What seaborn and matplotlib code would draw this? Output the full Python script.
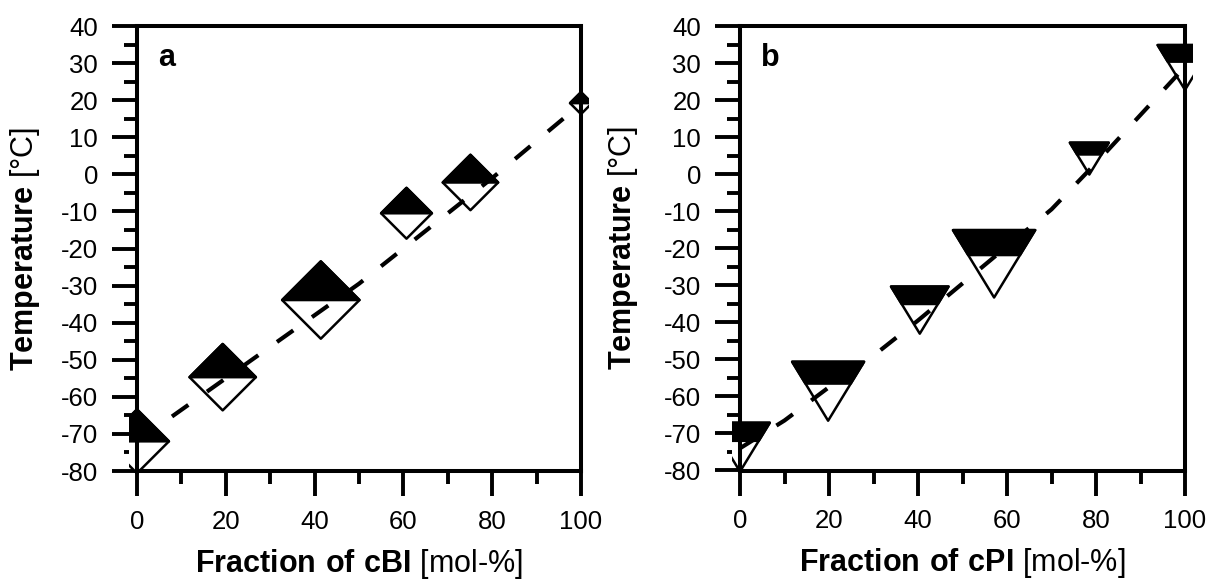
import matplotlib
matplotlib.use("Agg")
import matplotlib.pyplot as plt
import numpy as np
import pandas as pd
import seaborn as sns
from matplotlib.path import Path
from matplotlib.ticker import MultipleLocator
from matplotlib.transforms import Bbox, TransformedBbox

# ---- data -------------------------------------------------------------
# Panel a: cBI copolymers
cbi_fraction = [0, 19.3, 41.4, 60.7, 75.1, 100]
cbi_temperature = [-72.0, -54.7, -33.9, -10.5, -2.2, 19.2]
cbi_curve_fraction = [0, 10, 20, 30, 40, 50, 60, 70, 80, 90, 100]
cbi_curve_temperature = [-72, -63.5, -55, -46.5, -38, -29.5, -20, -10.5, -1, 9, 19]

# Panel b: cPI copolymers
cpi_fraction = [0, 19.8, 40.4, 57.1, 78.5, 100]
cpi_temperature = [-73.7, -58.6, -36.7, -24.2, 4.2, 28.8]
cpi_curve_fraction = [0, 10, 20, 30, 40, 50, 60, 70, 80, 90, 100]
cpi_curve_temperature = [-74, -66.5, -57.5, -49, -39.5, -29.5, -19.5, -9.5, 3, 16, 29]

# marker widths in points
cbi_marker_width = [46.0, 47.8, 55.7, 36.6, 39.9, 15.8]
cpi_marker_width = [42.9, 51.8, 41.4, 59.2, 28.0, 39.4]

# ---- style ------------------------------------------------------------
sns.set_theme(style="white")
plt.rcParams["font.family"] = ["Liberation Sans", "DejaVu Sans"]
plt.rcParams["mathtext.fontset"] = "custom"
plt.rcParams["mathtext.rm"] = "Liberation Sans"
plt.rcParams["mathtext.bf"] = "Liberation Sans:bold"
plt.rcParams["axes.unicode_minus"] = False

# half-filled marker shapes
DIAMOND = Path([(0, 1), (1, 0), (0, -1), (-1, 0), (0, 1)], closed=True)
DIAMOND_TOP = Path([(-1, 0), (0, 1), (1, 0), (-1, 0)], closed=True)
R = 1.22          # width / height of the down triangle
BAND = 0.37       # filled share of the triangle height
yb = 1 - 2 * BAND
TRI = Path([(-R, 1), (R, 1), (0, -1), (-R, 1)], closed=True)
TRI_TOP = Path([(-R, 1), (R, 1), (R * (yb + 1) / 2, yb),
                (-R * (yb + 1) / 2, yb), (-R, 1)], closed=True)

fig = plt.figure(figsize=(12.07, 5.81), dpi=100)
fig.patch.set_facecolor("white")
ax_a = fig.add_axes([137 / 1207, 1 - 471 / 581, 444 / 1207, 445 / 581])
ax_b = fig.add_axes([740 / 1207, 1 - 470.5 / 581, 445 / 1207, 444.5 / 581])


def draw_panel(ax, frac, temp, widths, cx, cy, full, top, letter, xlabel, ylab_x):
    df = pd.DataFrame({"x": frac, "y": temp, "s": np.square(widths)})
    curve = pd.DataFrame({"x": cx, "y": cy})
    clip = TransformedBbox(Bbox.from_extents(-0.019, -0.019, 1.019, 1.019), ax.transAxes)

    sns.scatterplot(data=df, x="x", y="y", s=df["s"], marker=full,
                    facecolor="white", edgecolor="black", linewidth=1.8,
                    ax=ax, zorder=1, legend=False)
    sns.scatterplot(data=df, x="x", y="y", s=df["s"], marker=top,
                    facecolor="black", edgecolor="black", linewidth=1.8,
                    ax=ax, zorder=1.1, legend=False)
    for coll in ax.collections:
        coll.set_clip_path(None)
        coll.set_clip_box(clip)

    sns.lineplot(data=curve, x="x", y="y", color="black", linewidth=3,
                 linestyle=(0, (4.8, 5.5)), ax=ax, zorder=2)

    ax.set_xlim(0, 100)
    ax.set_ylim(-80, 40)
    ax.xaxis.set_major_locator(MultipleLocator(20))
    ax.xaxis.set_minor_locator(MultipleLocator(10))
    ax.yaxis.set_major_locator(MultipleLocator(10))
    ax.yaxis.set_minor_locator(MultipleLocator(5))
    ax.tick_params(which="major", direction="out", length=18, width=2.8,
                   color="black", labelsize=18.5, labelcolor="black", pad=10)
    ax.tick_params(which="minor", direction="out", length=9.5, width=2.8,
                   color="black")
    ax.tick_params(axis="both", which="both", bottom=True, left=True,
                   top=False, right=False)
    for sp in ax.spines.values():
        sp.set_visible(True)
        sp.set_linewidth(2.9)
        sp.set_color("black")
    ax.set_facecolor("white")

    ax.set_xlabel(xlabel, fontsize=22, color="black")
    ax.set_ylabel(r"$\mathbf{Temperature}$ [°C]", fontsize=22, color="black")
    ax.xaxis.set_label_coords(0.5, -0.17)
    ax.yaxis.set_label_coords(ylab_x, 0.5)
    ax.text(0.048, 0.911, letter, transform=ax.transAxes, fontsize=22,
            fontweight="bold", ha="left", va="baseline", color="black")


draw_panel(ax_a, cbi_fraction, cbi_temperature, cbi_marker_width,
           cbi_curve_fraction, cbi_curve_temperature, DIAMOND, DIAMOND_TOP,
           "a", r"$\mathbf{Fraction\ of\ cBI}$ [mol-%]", -0.215)
draw_panel(ax_b, cpi_fraction, cpi_temperature, cpi_marker_width,
           cpi_curve_fraction, cpi_curve_temperature, TRI, TRI_TOP,
           "b", r"$\mathbf{Fraction\ of\ cPI}$ [mol-%]", -0.225)

fig.savefig("out.png", dpi=100, facecolor="white")
